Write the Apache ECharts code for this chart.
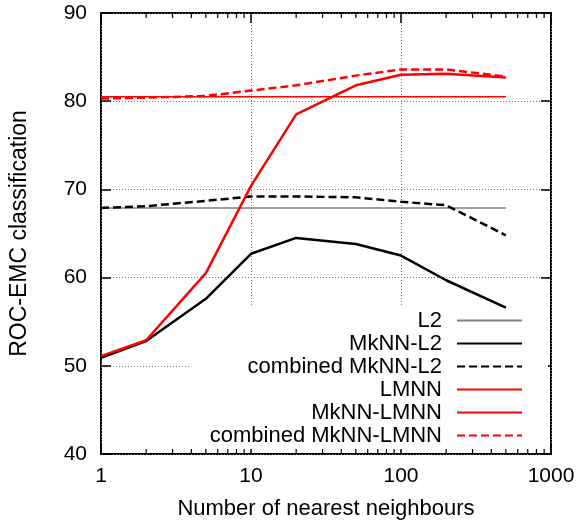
<!DOCTYPE html>
<html>
<head>
<meta charset="utf-8">
<script src="https://cdn.jsdelivr.net/npm/echarts@6/dist/echarts.min.js"></script>
<style>
  html, body { margin: 0; padding: 0; background: #fff; }
  #chart { width: 586px; height: 525px; }
</style>
</head>
<body>
<div id="chart"></div>
<script>
// number of nearest neighbours (x, log scale)
const neighbours = [1, 2, 5, 10, 20, 50, 100, 200, 500];

// ROC-EMC classification values
const l2 = [67.9, 67.9, 67.9, 67.9, 67.9, 67.9, 67.9, 67.9, 67.9];
const mknnL2 = [50.9, 52.8, 57.6, 62.7, 64.5, 63.8, 62.5, 59.7, 56.6];
const combinedMknnL2 = [67.9, 68.1, 68.7, 69.2, 69.2, 69.1, 68.6, 68.2, 64.8];
const lmnn = [80.5, 80.5, 80.5, 80.5, 80.5, 80.5, 80.5, 80.5, 80.5];
const mknnLmnn = [51.1, 52.9, 60.5, 70.4, 78.5, 81.8, 83.0, 83.1, 82.7];
const combinedMknnLmnn = [80.3, 80.4, 80.6, 81.2, 81.8, 82.9, 83.6, 83.6, 82.8];

// minor ticks of the log axis
const minorTicks = [2, 3, 4, 5, 6, 7, 8, 9, 20, 30, 40, 50, 60, 70, 80, 90, 200, 300, 400, 500, 600, 700, 800, 900];

const yMin = 40, yMax = 90;
const font = '"Liberation Sans", Arial, sans-serif';

function pairs(vals) {
    return neighbours.map((n, i) => [n, vals[i]]);
}

function lineSeries(name, vals, color, width, dash) {
    return {
        name: name,
        type: 'line',
        data: pairs(vals),
        symbol: 'none',
        showSymbol: false,
        z: 2,
        lineStyle: { color: color, width: width, type: dash || 'solid' },
        itemStyle: { color: color }
    };
}

const chart = echarts.init(document.getElementById('chart'));

const gridLine = { show: true, lineStyle: { color: '#777', width: 1, type: [1, 2] } };

chart.setOption({
    animation: false,
    backgroundColor: '#fff',
    textStyle: { fontFamily: font },
    grid: { left: 101, right: 35, top: 13, bottom: 69, show: true, borderColor: '#000', borderWidth: 2, backgroundColor: 'transparent' },
    xAxis: [
        {
            type: 'log', logBase: 10, min: 1, max: 1000, position: 'bottom',
            name: 'Number of nearest neighbours', nameLocation: 'middle', nameGap: 44,
            nameTextStyle: { fontSize: 22, color: '#000', fontFamily: font },
            axisLine: { show: false },
            axisTick: { show: true, inside: true, length: 10, lineStyle: { color: '#000', width: 1.5 } },
            axisLabel: { fontSize: 21, color: '#000', margin: 12, fontFamily: font, formatter: v => String(v) },
            splitLine: gridLine
        },
        {
            type: 'log', logBase: 10, min: 1, max: 1000, position: 'top',
            axisLine: { show: false },
            axisTick: { show: true, inside: true, length: 10, lineStyle: { color: '#000', width: 1.5 } },
            axisLabel: { show: false },
            splitLine: { show: false }
        }
    ],
    yAxis: [
        {
            type: 'value', min: yMin, max: yMax, interval: 10, position: 'left',
            name: 'ROC-EMC classification', nameLocation: 'middle', nameGap: 70,
            nameTextStyle: { fontSize: 23, color: '#000', fontFamily: font },
            axisLine: { show: false },
            axisTick: { show: true, inside: true, length: 10, lineStyle: { color: '#000', width: 1.5 } },
            axisLabel: { fontSize: 21, color: '#000', margin: 14, fontFamily: font },
            splitLine: gridLine
        },
        {
            type: 'value', min: yMin, max: yMax, interval: 10, position: 'right',
            axisLine: { show: false },
            axisTick: { show: true, inside: true, length: 10, lineStyle: { color: '#000', width: 1.5 } },
            axisLabel: { show: false },
            splitLine: { show: false }
        }
    ],
    legend: {
        data: ['L2', 'MkNN-L2', 'combined MkNN-L2', 'LMNN', 'MkNN-LMNN', 'combined MkNN-LMNN'],
        orient: 'vertical',
        align: 'right',
        right: 38,
        top: 307,
        padding: [2, 25, 2, 19],
        itemWidth: 65,
        itemHeight: 14,
        itemGap: 0,
        z: 1,
        backgroundColor: '#fff',
        selectedMode: false,
        itemStyle: { opacity: 0 },
        textStyle: { fontSize: 22, color: '#000', lineHeight: 23, padding: [0, 10, 0, 0], fontFamily: font }
    },
    series: [
        lineSeries('L2', l2, '#808080', 1.5),
        lineSeries('MkNN-L2', mknnL2, '#000', 2.5),
        lineSeries('combined MkNN-L2', combinedMknnL2, '#000', 2.5, [8, 4]),
        lineSeries('LMNN', lmnn, '#ff0000', 1.5),
        lineSeries('MkNN-LMNN', mknnLmnn, '#ff0000', 2.5),
        lineSeries('combined MkNN-LMNN', combinedMknnLmnn, '#ff0000', 2.5, [8, 4]),
        {
            type: 'custom',
            name: 'minor ticks',
            data: minorTicks.map(v => [v, yMin]),
            silent: true,
            z: 3,
            renderItem: function (params, api) {
                const v = api.value(0);
                const b = api.coord([v, yMin]);
                const t = api.coord([v, yMax]);
                return {
                    type: 'group',
                    children: [
                        { type: 'line', shape: { x1: b[0], y1: b[1], x2: b[0], y2: b[1] - 5 }, style: { stroke: '#000', lineWidth: 1.2 } },
                        { type: 'line', shape: { x1: t[0], y1: t[1], x2: t[0], y2: t[1] + 5 }, style: { stroke: '#000', lineWidth: 1.2 } }
                    ]
                };
            }
        }
    ]
});
</script>
</body>
</html>
